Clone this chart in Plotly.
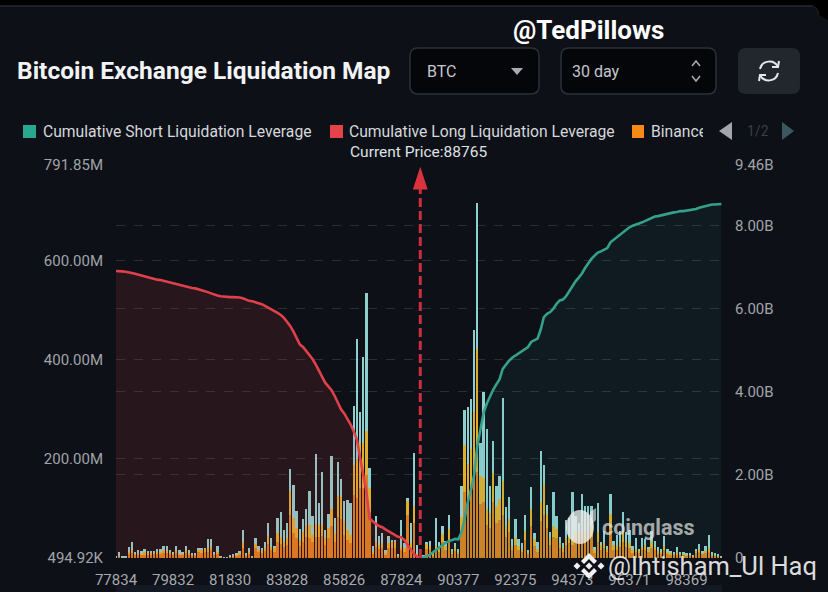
import plotly.graph_objects as go

prices = [str(p) for p in range(77834, 88400, 111)] + ["88765"] + [str(p) for p in range(89156, 99600, 111)]
tick_labels = ["77834", "79832", "81830", "83828", "85826", "87824", "90377", "92375", "94373", "96371", "98369"]
current_price = "88765"

# exchange liquidation leverage per price bin, in millions
binance = [1.3,2.7,1.3,.7,9.4,10.7,6.7,7.4,6.7,8,6.7,7.4,8.7,9.4,9.4,11.4,10.7,9.4,6.7,10,
6.7,6.7,10.7,7.4,5.4,4.7,12,11.4,13.4,13.4,16,6.7,8.7,2,.3,.3,2.7,4,5.4,7.4,
20,5.4,9.4,2,20,12,10.7,14.7,29.5,16,13.4,33.5,29.5,22.8,26.8,87,51,40,24,33.5,
43,40,32,43.6,43.6,44,27,40,64,33.5,84,80,47,37.5,30,127,121,141,141,168,
94,9.4,23.5,19,20,6.7,20,21.5,21.5,4,16,13.4,87,20,70,6,4.7,2,19,16,
6,16.8,13.4,33.5,16,37,9.4,14.7,8,53.6,134,114,134,161,174,110,114,67,60,114,
70,77,87,43.6,53.6,16.8,27,16.8,12,37,9.4,64,25.5,12,74,87,60,27,43.6,40,
20,13.4,27,30,27,37,33.5,37,37,37,43.6,10.7,33.5,17.4,20,12,57,17.4,16.8,22.8,
33.5,22.8,20,10.7,12,10.7,16,17.4,12,20,16,9.4,9.4,16.8,9.4,7.4,6.7,8,6.7,6.7,
5.4,4.7,3.4,11.4,12,8.7,10,13.4,5.4,4.7,3.4,2]
okx = [.7,1.3,.7,.7,4,5.4,2.7,3.4,2.7,4,3.4,4,3.4,4,4,4.7,4,4,2.7,4.7,
2.7,3.4,5.4,3.4,2,2,5.4,4.7,5.4,6.7,6.7,2.7,3.4,.7,.2,.1,1.3,1.3,2.7,3.4,
13.4,2.7,4,.7,8,5.4,5.4,6.7,14.7,7.4,6.7,16.8,13.4,10.7,13.4,48,29.5,20,13.4,20,
21.4,27,14.7,24.8,23.5,23,13.4,20,36,16.8,41.5,43.6,27,19.5,16.8,61,78,91,91,88,
48,4,10,8,10,3.4,10,10.7,10.7,2,7.4,6.7,30,10,34.5,3.4,2,1.3,10.7,9.4,
3.4,8.7,6.7,15.4,9.4,22,5.4,7.4,5.4,30,95,75,85,134,248,55,48,31.5,31.5,58,
35,41.5,68,21.4,25,8,14.7,8,6,18,4,36,12.7,6,39.5,61.6,29,13.4,22,19,
10,6.7,13.4,16.8,12,16.8,16.8,16.8,16.8,20,23.5,6,18.8,9.4,10,6.7,32,9.4,8.7,10.7,
18.8,10.7,10,5.4,6.7,5.4,7.4,9.4,6.7,13.4,7.4,5.4,4,8.7,4,3.4,3.4,4,3.4,3.4,
2.7,2,1.3,4.7,5.4,3.4,4.7,6.7,2.7,2,1.3,.7]
bybit = [1.3,8,3.4,1.3,10,16,2.7,6,5.4,6,4.7,2,2.7,4.7,4.7,8,9.4,4,4,9.4,
6.7,3.4,9.4,6.7,3.4,2.7,4,5.4,1.3,18.8,16,1.3,12,1.3,.2,.2,1.3,1.3,1.3,2.7,
23.5,2.7,6.7,1.3,12,8,4,12,26.8,16.8,5.4,30,51,23.5,30.8,45.6,68,35,22,26,
35.5,68,38,141,43.6,107,16.8,30,106,31.5,69,35,41.5,60,65,119,243,62,173,278,
40,10.7,51,17.5,21,6,15.5,5.4,5.4,1.3,54,10.7,4,41,107,16.8,3.4,2,2.7,10,
4,55,13.4,15.4,10,28,4,8.7,5.4,61.6,70,116,102,164,294,67,173,161,53.6,65,
40,48,168,39,45,13.4,37,14.7,13.4,32,2.7,43.6,13.4,15.4,102,40,18,13.4,68,25.5,
12,10.7,37.5,33.5,94,32,20.8,76,52,47.6,39,5.4,59,5.4,24,6.7,40,8.7,21.4,22,
41.5,20,27,9.4,21.4,2.7,16.8,12,3.4,22,12,7.4,5.4,18.8,5.4,4.7,3.4,10,2,3.4,
2,2,.7,2.7,10.7,2.7,10.7,26.8,4,3.4,2,1.3]

# cumulative leverage, in billions
cum_long = [6.91,6.91,6.90,6.89,6.88,6.86,6.84,6.82,6.80,6.78,6.75,6.74,6.72,6.70,6.69,6.67,6.65,6.63,6.61,6.59,
6.57,6.55,6.53,6.51,6.50,6.49,6.47,6.45,6.43,6.40,6.37,6.34,6.32,6.30,6.29,6.28,6.28,6.28,6.28,6.27,
6.25,6.21,6.19,6.18,6.16,6.14,6.11,6.07,6.03,5.99,5.96,5.90,5.85,5.78,5.68,5.58,5.45,5.28,5.14,5.08,
4.99,4.90,4.79,4.66,4.52,4.37,4.22,4.13,4.04,3.90,3.72,3.58,3.48,3.35,3.22,3.05,2.85,2.42,2.05,1.60,
0.95,0.88,0.82,0.77,0.74,0.69,0.64,0.60,0.55,0.51,0.50,0.43,0.31,0.20,0.10,0.03,0]
cum_short = [0,0.02,0.04,0.08,0.14,0.20,0.25,0.32,0.37,0.40,0.43,0.46,0.45,0.62,0.95,1.35,1.64,2.0,2.7,3.1,
3.5,3.72,3.90,4.05,4.18,4.3,4.55,4.65,4.75,4.82,4.87,4.93,4.98,5.03,5.08,5.2,5.24,5.28,5.5,5.8,
5.88,5.92,6.0,6.12,6.2,6.22,6.3,6.42,6.55,6.66,6.75,6.85,6.98,7.1,7.2,7.28,7.35,7.38,7.43,7.46,
7.6,7.66,7.74,7.8,7.86,7.92,7.96,8.0,8.02,8.05,8.08,8.12,8.16,8.19,8.22,8.23,8.25,8.27,8.29,8.31,
8.32,8.33,8.35,8.35,8.36,8.37,8.38,8.40,8.43,8.45,8.47,8.50,8.51,8.51,8.52,8.52]

BG = "#0d1016"
W, H = 828, 592
L, R, T, B = 116, 722, 165, 558


def px(x):
    return (x - L) / (R - L)


def py(y):
    return (B - y) / (B - T)


def path(cmds):
    out = []
    for c in cmds:
        if len(c) == 1:
            out.append(c[0])
        else:
            nums = c[1:]
            pts = []
            for k in range(0, len(nums), 2):
                pts.append(f"{px(nums[k]):.5f},{py(nums[k + 1]):.5f}")
            out.append(c[0] + " ".join(pts))
    return " ".join(out)


def shape_path(cmds, fill="rgba(0,0,0,0)", line=None, w=1, layer="below"):
    return dict(type="path", xref="paper", yref="paper", path=path(cmds), fillcolor=fill,
                line=dict(color=line if line else "rgba(0,0,0,0)", width=w), layer=layer)


def round_rect(x0, y0, x1, y1, r, fill, line=None, w=1.5, layer="below"):
    return shape_path([("M", x0 + r, y0), ("L", x1 - r, y0), ("Q", x1, y0, x1, y0 + r), ("L", x1, y1 - r),
                       ("Q", x1, y1, x1 - r, y1), ("L", x0 + r, y1), ("Q", x0, y1, x0, y1 - r), ("L", x0, y0 + r),
                       ("Q", x0, y0, x0 + r, y0), ("Z",)], fill, line, w, layer)


def label(text, x, y, size=15, color="#d5d8dc", font="Roboto", anchor="left", **kw):
    return dict(text=text, x=px(x), y=py(y), xref="paper", yref="paper", xanchor=anchor, yanchor="middle",
                showarrow=False, font=dict(size=size, color=color, family=font), **kw)


def diamond(cx, cy, r, fill):
    return shape_path([("M", cx, cy - r), ("L", cx + r, cy), ("L", cx, cy + r), ("L", cx - r, cy), ("Z",)],
                      fill, layer="above")


fig = go.Figure()
fig.add_bar(x=prices, y=binance, name="Binance", marker=dict(color="#d97f1e", line_width=0))
fig.add_bar(x=prices, y=okx, name="OKX", marker=dict(color="#dfae2d", line_width=0))
fig.add_bar(x=prices, y=bybit, name="Bybit", marker=dict(color="#8fd0cf", line_width=0))
fig.add_scatter(x=prices[:97], y=cum_long, yaxis="y2", mode="lines", name="Cumulative Long Liquidation Leverage",
                line=dict(color="#e0404c", width=2.6), fill="tozeroy", fillcolor="rgba(232,64,74,0.12)")
fig.add_scatter(x=prices[96:], y=cum_short, yaxis="y2", mode="lines", name="Cumulative Short Liquidation Leverage",
                line=dict(color="#35a08c", width=2.6), fill="tozeroy", fillcolor="rgba(46,170,150,0.08)")
fig.add_scatter(x=[current_price, current_price], y=[0, 8.95], yaxis="y2", mode="lines", name="Current Price",
                line=dict(color="#c92f3d", width=3, dash="9px,4px"))
fig.add_scatter(x=[current_price], y=[9.42], yaxis="y2", mode="markers", name="Current Price marker",
                marker=dict(symbol="arrow", size=24, color="#d93340", line_width=0))

chevron_top = [("M", 589, 553), ("L", 597, 561), ("L", 594, 564), ("L", 589, 559), ("L", 584, 564), ("L", 581, 561), ("Z",)]
chevron_bot = [("M", 589, 579), ("L", 597, 571), ("L", 594, 568), ("L", 589, 573), ("L", 584, 568), ("L", 581, 571), ("Z",)]

shapes = [
    dict(type="rect", xref="paper", yref="paper", x0=px(0), x1=px(828), y0=py(0), y1=py(6),
         fillcolor="#000000", line_width=0, layer="below"),
    dict(type="rect", xref="paper", yref="paper", x0=px(L), x1=px(R), y0=py(585), y1=py(592),
         fillcolor="#131822", line_width=0, layer="below"),
    shape_path([("M", 0, 6), ("L", 810, 6), ("Q", 819, 6, 819, 15)], line="#262a31", w=1.5),
    shape_path([("M", 819, 6), ("L", 828, 6), ("L", 828, 20), ("L", 819, 15), ("Q", 819, 6, 810, 6), ("Z",)], fill="#000000"),
    round_rect(410, 48, 539, 94, 8, "#05060a", "#2b3038"),
    round_rect(561, 48, 716, 94, 8, "#05060a", "#2b3038"),
    round_rect(738, 48, 800, 94, 8, "#22262d"),
    shape_path([("M", 511, 68), ("L", 523, 68), ("L", 517, 75), ("Z",)], "#a8acb2"),
    shape_path([("M", 692, 66), ("L", 696, 61), ("L", 700, 66)], line="#a8acb2", w=1.5),
    shape_path([("M", 692, 76), ("L", 696, 81), ("L", 700, 76)], line="#a8acb2", w=1.5),
    shape_path([("M", 760, 69), ("C", 762, 60, 774, 59, 778, 67)], line="#e4e6e8", w=2),
    shape_path([("M", 779, 61), ("L", 778, 67), ("L", 772, 67)], line="#e4e6e8", w=2),
    shape_path([("M", 778, 73), ("C", 776, 82, 764, 83, 760, 75)], line="#e4e6e8", w=2),
    shape_path([("M", 759, 81), ("L", 760, 75), ("L", 766, 75)], line="#e4e6e8", w=2),
    dict(type="rect", xref="paper", yref="paper", x0=px(23), x1=px(36), y0=py(125), y1=py(138), fillcolor="#2aa78f", line_width=0),
    dict(type="rect", xref="paper", yref="paper", x0=px(330), x1=px(343), y0=py(125), y1=py(138), fillcolor="#e5434a", line_width=0),
    dict(type="rect", xref="paper", yref="paper", x0=px(632), x1=px(644), y0=py(125), y1=py(138), fillcolor="#f58a17", line_width=0),
    shape_path([("M", 719, 131), ("L", 732, 122), ("L", 732, 140), ("Z",)], "#a3a7ad"),
    shape_path([("M", 794, 131), ("L", 782, 122), ("L", 782, 140), ("Z",)], "#3b5860"),
    dict(type="circle", xref="paper", yref="paper", x0=px(566), x1=px(594), y0=py(510), y1=py(544),
         fillcolor="rgba(238,238,238,0.78)", line_width=0, layer="above"),
    shape_path([("M", 590, 512), ("L", 596, 508), ("L", 596, 520), ("L", 590, 526), ("Z",)], "rgba(238,238,238,0.6)", layer="above"),
    shape_path(chevron_top, "#f2f2f2", layer="above"),
    shape_path(chevron_bot, "#f2f2f2", layer="above"),
    diamond(577, 566, 3.5, "#f2f2f2"),
    diamond(601, 566, 3.5, "#f2f2f2"),
    diamond(589, 566, 3.5, "#f2f2f2"),
]

annotations = [
    label("<b>@TedPillows</b>", 511, 30, 26, "#ffffff"),
    label("<b>Bitcoin Exchange Liquidation Map</b>", 15, 71, 24.5, "#f2f3f5"),
    label("BTC", 425, 72, 16, "#c4c7cc"),
    label("30 day", 570, 72, 16, "#c4c7cc"),
    label("Cumulative Short Liquidation Leverage", 41, 131, 15.7),
    label("Cumulative Long Liquidation Leverage", 347, 131, 15.7),
    label("Binance", 649, 131, 15.7, width=52, align="left"),
    label("1/2", 758, 131, 14, "#3a3f47", anchor="center"),
    label("Current Price:88765", 348, 152, 15.5, "#dfe1e4"),
    label("<b>coinglass</b>", 600, 527, 21.5, "rgba(225,225,225,0.72)"),
    label("@Ihtisham_Ul Haq", 606, 566, 25.5, "rgba(240,240,240,0.92)"),
]

fig.update_layout(
    width=W, height=H, autosize=False,
    margin=dict(l=L, r=W - R, t=T, b=H - B, pad=0, autoexpand=False),
    paper_bgcolor=BG, plot_bgcolor=BG,
    barmode="stack", bargap=0.26,
    showlegend=False,
    font=dict(family="Roboto", color="#9a9fa6"),
    shapes=shapes, annotations=annotations,
    xaxis=dict(type="category", categoryorder="array", categoryarray=prices, range=[0, 191.2], automargin=False,
               tickmode="array", tickvals=tick_labels, ticktext=tick_labels, ticks="outside", ticklen=8,
               tickcolor="rgba(0,0,0,0)", showgrid=False, showline=False, zeroline=False, tickangle=0,
               tickfont=dict(size=15, color="#a6aab0")),
    yaxis=dict(range=[0.49, 791.85], tickmode="array", automargin=False,
               tickvals=[0.49492, 200, 400, 600, 791.85],
               ticktext=["494.92K", "200.00M", "400.00M", "600.00M", "791.85M"],
               showgrid=True, gridcolor="#2a2e34", griddash="dash", gridwidth=1, zeroline=False,
               ticks="", ticklabelstandoff=12, tickfont=dict(size=15, color="#a0a4aa")),
    yaxis2=dict(range=[0, 9.46], overlaying="y", side="right", tickmode="array", automargin=False,
                tickvals=[0, 2, 4, 6, 8, 9.46], ticktext=["0", "2.00B", "4.00B", "6.00B", "8.00B", "9.46B"],
                showgrid=True, gridcolor="#2a2e34", griddash="dash", gridwidth=1, zeroline=False,
                ticks="", ticklabelstandoff=12, tickfont=dict(size=15, color="#a0a4aa")),
)

fig.write_html("out.html", config={"displayModeBar": False},
               post_script="document.body.style.margin='0';document.body.style.background='#0d1016';")
